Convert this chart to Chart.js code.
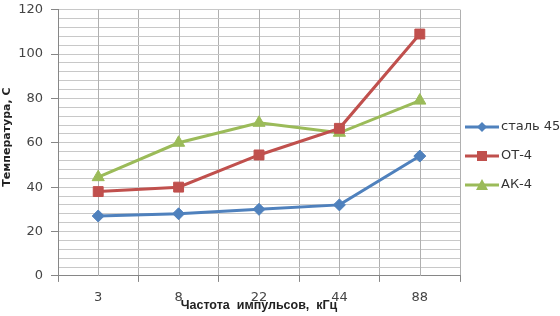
<!DOCTYPE html>
<html>
<head>
<meta charset="utf-8">
<script src="https://cdn.jsdelivr.net/npm/chart.js@4/dist/chart.umd.min.js"></script>
<style>
  html, body { margin: 0; padding: 0; background: #fff; }
  #wrap { width: 560px; height: 316px; position: relative; }
</style>
</head>
<body>
<div id="wrap"><canvas id="chart"></canvas></div>
<script>
// chart data
var freqLabels = ["3", "8", "22", "44", "88"];
var steel45 = [27, 28, 30, 32, 54];
var ot4 = [38, 40, 54.5, 66.5, 109];
var ak4 = [44.5, 60, 69, 64.5, 79];
var seriesNames = ["сталь 45", "ОТ-4", "АК-4"];

var colors = ["#4f81bd", "#c0504d", "#9bbb59"];
var styles = ["rectRot", "rect", "triangle"];
var radii = [6, 7, 7];

//marker shapes used by the legend
function drawMarker(g, style, x, y){
    g.beginPath();
    if(style === "rectRot"){
        g.moveTo(x, y - 5); g.lineTo(x + 5, y); g.lineTo(x, y + 5); g.lineTo(x - 5, y);
    } else if(style === "rect"){
        g.rect(x - 5, y - 5, 10, 10);
    } else {
        g.moveTo(x, y - 6); g.lineTo(x + 6, y + 5); g.lineTo(x - 6, y + 5);
    }
    g.closePath(); g.fill();
}

//legend on the right, line + marker + text
var sideLegend = {
    id: "sideLegend",
    afterDraw: function(chart){
        var g = chart.ctx;
        var area = chart.chartArea;
        var x0 = area.right + 5;
        var midY = chart.height / 2 - 2;
        g.save();
        g.font = "13px 'DejaVu Sans'";
        g.textBaseline = "middle";
        for(var i = 0; i < seriesNames.length; i++){
            var y = midY + (i - 1) * 29;
            g.strokeStyle = colors[i]; g.fillStyle = colors[i]; g.lineWidth = 3;
            g.beginPath(); g.moveTo(x0, y); g.lineTo(x0 + 34, y); g.stroke();
            drawMarker(g, styles[i], x0 + 17, y);
            g.fillStyle = "#333";
            g.fillText(seriesNames[i], x0 + 36, y);
        }
        g.restore();
    }
};

//vertical grid lines through the category centres
var centreLines = {
    id: "centreLines",
    beforeDatasetsDraw: function(chart){
        var g = chart.ctx;
        var xs = chart.scales.x;
        var area = chart.chartArea;
        g.save();
        g.strokeStyle = "#b0b0b0"; g.lineWidth = 1;
        for(var i = 0; i < freqLabels.length; i++){
            var px = Math.round(xs.getPixelForTick(i)) + 0.5;
            g.beginPath(); g.moveTo(px, area.top); g.lineTo(px, area.bottom); g.stroke();
        }
        g.restore();
    }
};

var allData = [steel45, ot4, ak4];
var datasets = [];
for(var i = 0; i < 3; i++){
    datasets.push({
        label: seriesNames[i],
        data: allData[i],
        borderColor: colors[i],
        backgroundColor: colors[i],
        borderWidth: 3,
        pointStyle: styles[i],
        pointRadius: radii[i],
        pointHoverRadius: radii[i],
        pointBorderWidth: 1,
        tension: 0
    });
}

new Chart(document.getElementById("chart"), {
    type: "line",
    data: { labels: freqLabels, datasets: datasets },
    plugins: [centreLines, sideLegend],
    options: {
        responsive: true,
        maintainAspectRatio: false,
        animation: false,
        layout: { padding: { top: 0, left: 0, right: 100, bottom: 0 } },
        plugins: {
            tooltip: { enabled: false },
            legend: { display: false }
        },
        scales: {
            x: {
                type: "category",
                offset: true,
                grid: { offset: true, color: "#b0b0b0", tickColor: "#868686", tickLength: 6 },
                border: { color: "#868686" },
                ticks: { color: "#444", font: { family: "DejaVu Sans", size: 13 }, padding: 8 },
                title: {
                    display: true,
                    text: "Частота  импульсов,  кГц",
                    color: "#222",
                    font: { family: "Liberation Sans", size: 12.5, weight: "bold" },
                    padding: { top: -15, bottom: 2.5 }
                }
            },
            y: {
                min: 0,
                max: 120,
                grid: {
                    color: "#c8c8c8",
                    tickLength: 7,
                    tickColor: function(ctx){
                        return ctx.tick && ctx.tick.value % 20 === 0 ? "#868686" : "rgba(0,0,0,0)";
                    }
                },
                border: { color: "#868686" },
                ticks: {
                    stepSize: 4,
                    autoSkip: false,
                    color: "#444",
                    font: { family: "DejaVu Sans", size: 13, lineHeight: 0.25 },
                    padding: 8,
                    callback: function(v){ return v % 20 === 0 ? v : ""; }
                },
                title: {
                    display: true,
                    text: "   Температура, С",
                    color: "#222",
                    font: { family: "DejaVu Sans", size: 11, weight: "bold" },
                    padding: { top: 1, bottom: -4 }
                }
            }
        }
    }
});
</script>
</body>
</html>
